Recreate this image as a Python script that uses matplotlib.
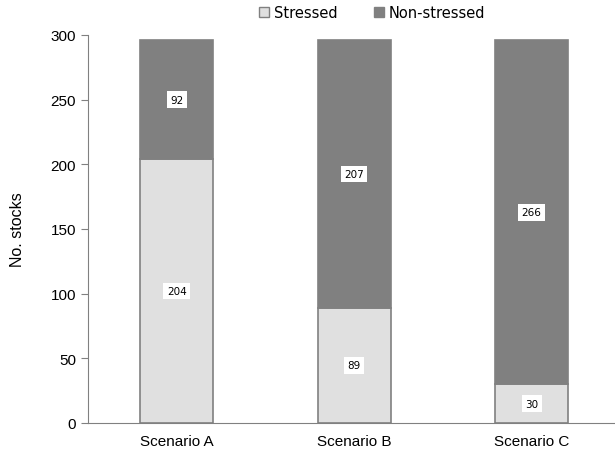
import matplotlib
matplotlib.use("Agg")
import matplotlib.pyplot as plt
import numpy as np
from matplotlib.patches import Patch

categories = ["Scenario A", "Scenario B", "Scenario C"]
stressed = [204, 89, 30]
non_stressed = [92, 207, 266]
yticks = [0, 50, 100, 150, 200, 250, 300]

plt.rcParams['font.family'] = ['Liberation Sans', 'DejaVu Sans']
fig = plt.figure(figsize=(6.15, 4.56), dpi=100)
ax = fig.add_axes([0.143, 0.0702, 0.857, 0.851])

x = np.arange(len(categories))
w = 0.41
c_light = "#e0e0e0"
c_dark = "#808080"
ax.bar(x, stressed, w, color=c_light, edgecolor=c_dark, linewidth=1.2)
ax.bar(x, non_stressed, w, bottom=stressed, color=c_dark, edgecolor=c_dark, linewidth=1.2)

for i in range(len(categories)):
    ax.text(x[i], stressed[i] / 2, f"{stressed[i]}", ha="center", va="center", fontsize=7.5,
            family="DejaVu Sans", bbox=dict(facecolor="white", edgecolor="none", pad=2.5))
    ax.text(x[i], stressed[i] + non_stressed[i] / 2, f"{non_stressed[i]}", ha="center", va="center",
            fontsize=7.5, family="DejaVu Sans", bbox=dict(facecolor="white", edgecolor="none", pad=2.5))

ax.set_xlim(-0.5, 2.47)
ax.set_ylim(0, 300)
ax.set_yticks(yticks)
ax.set_xticks(x)
ax.set_xticklabels(categories, fontsize=11)
ax.tick_params(axis='y', labelsize=11, direction='out', length=5, color=c_dark)
ax.tick_params(axis='x', length=0, pad=8)
for s in ["top", "right"]:
    ax.spines[s].set_visible(False)
ax.spines["left"].set_color(c_dark)
ax.spines["bottom"].set_color(c_dark)
ax.set_ylabel("No. stocks", fontsize=11.5)
ax.yaxis.set_label_coords(-0.12, 0.5)

handles = [Patch(facecolor=c_light, edgecolor=c_dark, label="Stressed"),
           Patch(facecolor=c_dark, edgecolor=c_dark, label="Non-stressed")]
fig.legend(handles=handles, loc="upper center", bbox_to_anchor=(0.605, 1.015), ncol=2, frameon=False,
           prop={"family": "DejaVu Sans", "size": 10.5}, handlelength=0.7, handleheight=0.7,
           columnspacing=2.5, handletextpad=0.3)

fig.savefig("out.png", dpi=100)
